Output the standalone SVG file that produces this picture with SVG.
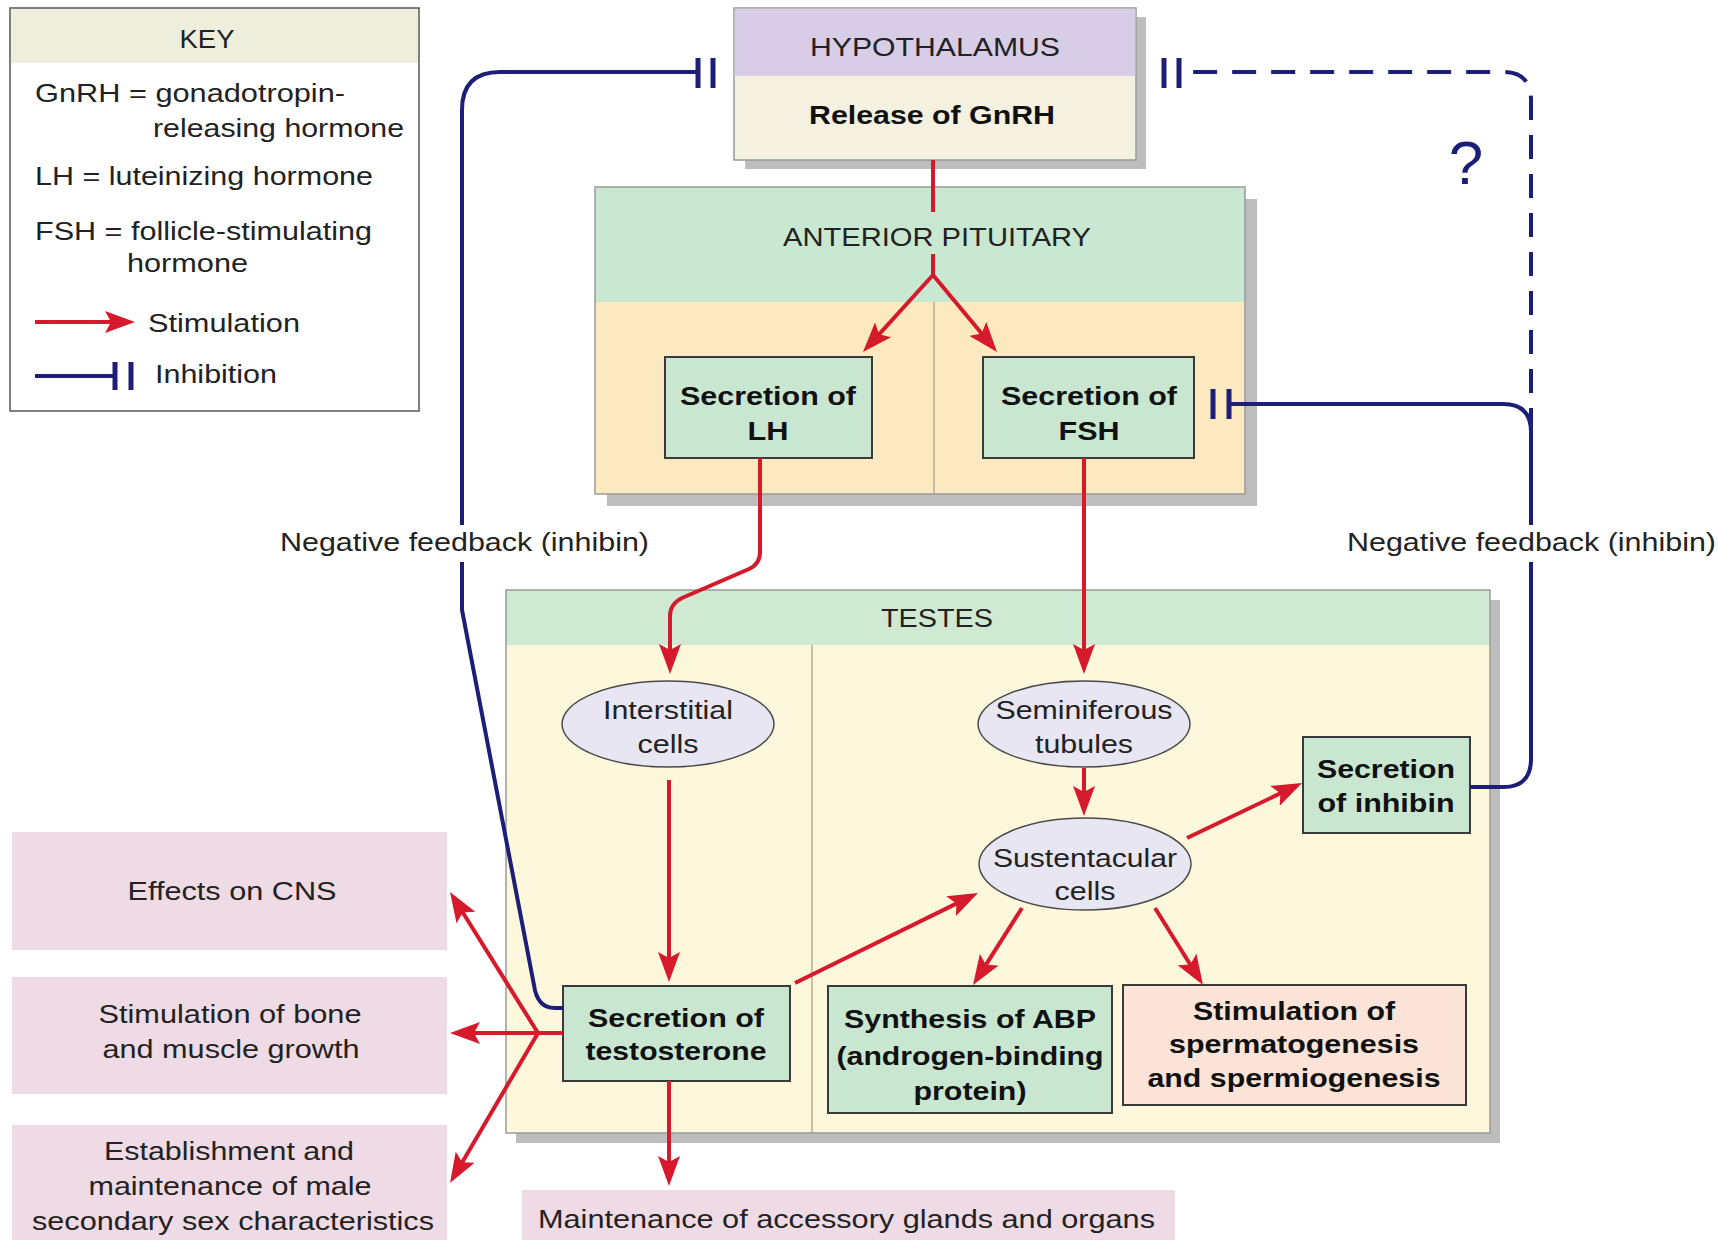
<svg xmlns="http://www.w3.org/2000/svg" width="1718" height="1240" viewBox="0 0 1718 1240">
<style>
.t{font-family:"Liberation Sans",Arial,Helvetica,sans-serif;font-size:26px;fill:#222}
.b{font-weight:bold;fill:#111}
.m{text-anchor:middle}
.red{stroke:#d7192c;stroke-width:4;fill:none}
.blue{stroke:#1c1f78;stroke-width:4;fill:none}
.bar{stroke:#1c1f78;stroke-width:5}
.box{stroke:#3a3a3a;stroke-width:2}
.green{fill:#c9e7d0}
.ell{fill:#e8e6f2;stroke:#4a4a4a;stroke-width:1.5}
.pink{fill:#efdbe5}
.shadow{fill:#bdbdbd}
.frame{fill:none;stroke:#9a9a9a;stroke-width:1.5}
</style>
<defs>
<marker id="arr" markerUnits="userSpaceOnUse" markerWidth="30" markerHeight="22" viewBox="0 0 30 22" refX="20" refY="11" orient="auto">
<path d="M0,0 L30,11 L0,22 L6,11 z" fill="#d7192c"/>
</marker>
</defs>
<rect width="1718" height="1240" fill="#ffffff"/>

<g id="key">
<rect x="10" y="8" width="409" height="403" fill="#ffffff" stroke="#555" stroke-width="1.5"/>
<rect x="11" y="9" width="407" height="54" fill="#eeeedd"/>
<text class="t m" x="207" y="48" textLength="55" lengthAdjust="spacingAndGlyphs">KEY</text>
<text class="t" x="35" y="102" textLength="310" lengthAdjust="spacingAndGlyphs">GnRH = gonadotropin-</text>
<text class="t" x="153" y="137" textLength="251" lengthAdjust="spacingAndGlyphs">releasing hormone</text>
<text class="t" x="35" y="185" textLength="338" lengthAdjust="spacingAndGlyphs">LH = luteinizing hormone</text>
<text class="t" x="35" y="240" textLength="337" lengthAdjust="spacingAndGlyphs">FSH = follicle-stimulating</text>
<text class="t" x="127" y="272" textLength="121" lengthAdjust="spacingAndGlyphs">hormone</text>
<text class="t" x="148" y="332" textLength="152" lengthAdjust="spacingAndGlyphs">Stimulation</text>
<text class="t" x="155" y="383" textLength="122" lengthAdjust="spacingAndGlyphs">Inhibition</text>
<line class="red" x1="35" y1="322" x2="125" y2="322" marker-end="url(#arr)"/>
<line class="blue" x1="35" y1="376" x2="115" y2="376"/>
<line class="bar" x1="115" y1="362" x2="115" y2="390"/>
<line class="bar" x1="131" y1="362" x2="131" y2="390"/>
</g>

<g id="hypothalamus">
<rect class="shadow" x="745" y="17" width="401" height="152"/>
<rect x="734" y="8" width="402" height="152" fill="#f4f1e0" stroke="#9a9a9a" stroke-width="1.5"/>
<rect x="734.75" y="8.75" width="400.5" height="67" fill="#d7cde6"/>
<text class="t m" x="935" y="56" textLength="250" lengthAdjust="spacingAndGlyphs">HYPOTHALAMUS</text>
<text class="t b m" x="932" y="124" textLength="246" lengthAdjust="spacingAndGlyphs">Release of GnRH</text>
</g>

<g id="anterior-pituitary">
<rect class="shadow" x="607" y="199" width="650" height="307"/>
<rect x="595" y="187" width="650" height="307" fill="#fce9c0"/>
<rect x="595" y="187" width="650" height="115" fill="#c9e8d2"/>
<line x1="934" y1="302" x2="934" y2="494" stroke="#b9ad92" stroke-width="1.5"/>
<rect class="frame" x="595" y="187" width="650" height="307"/>
<text class="t m" x="937" y="246" textLength="308" lengthAdjust="spacingAndGlyphs">ANTERIOR PITUITARY</text>
</g>

<g id="testes">
<rect class="shadow" x="516" y="600" width="984" height="543"/>
<rect x="506" y="590" width="984" height="543" fill="#fdf7dc"/>
<rect x="506" y="590" width="984" height="55" fill="#cfe9d2"/>
<line x1="812" y1="645" x2="812" y2="1133" stroke="#b9ad92" stroke-width="1.5"/>
<rect class="frame" x="506" y="590" width="984" height="543"/>
<text class="t m" x="937" y="627" textLength="112" lengthAdjust="spacingAndGlyphs">TESTES</text>
</g>

<g id="lh">
<rect class="box green" x="665" y="357" width="207" height="101"/>
<text class="t b m" x="768" y="405" textLength="176" lengthAdjust="spacingAndGlyphs">Secretion of</text>
<text class="t b m" x="768" y="440" textLength="41" lengthAdjust="spacingAndGlyphs">LH</text>
</g>

<g id="fsh">
<rect class="box green" x="983" y="357" width="211" height="101"/>
<text class="t b m" x="1089" y="405" textLength="176" lengthAdjust="spacingAndGlyphs">Secretion of</text>
<text class="t b m" x="1089" y="440" textLength="61" lengthAdjust="spacingAndGlyphs">FSH</text>
</g>

<g id="interstitial">
<ellipse class="ell" cx="668" cy="724" rx="106" ry="43"/>
<text class="t m" x="668" y="719" textLength="130" lengthAdjust="spacingAndGlyphs">Interstitial</text>
<text class="t m" x="668" y="753" textLength="61" lengthAdjust="spacingAndGlyphs">cells</text>
</g>

<g id="seminiferous">
<ellipse class="ell" cx="1084" cy="724" rx="106" ry="43"/>
<text class="t m" x="1084" y="719" textLength="177" lengthAdjust="spacingAndGlyphs">Seminiferous</text>
<text class="t m" x="1084" y="753" textLength="98" lengthAdjust="spacingAndGlyphs">tubules</text>
</g>

<g id="sustentacular">
<ellipse class="ell" cx="1085" cy="864" rx="106" ry="46"/>
<text class="t m" x="1085" y="867" textLength="184" lengthAdjust="spacingAndGlyphs">Sustentacular</text>
<text class="t m" x="1085" y="900" textLength="61" lengthAdjust="spacingAndGlyphs">cells</text>
</g>

<g id="inhibin">
<rect class="box green" x="1303" y="737" width="167" height="96"/>
<text class="t b m" x="1386" y="778" textLength="138" lengthAdjust="spacingAndGlyphs">Secretion</text>
<text class="t b m" x="1386" y="812" textLength="137" lengthAdjust="spacingAndGlyphs">of inhibin</text>
</g>

<g id="testosterone">
<rect class="box green" x="563" y="986" width="227" height="95"/>
<text class="t b m" x="676" y="1027" textLength="176" lengthAdjust="spacingAndGlyphs">Secretion of</text>
<text class="t b m" x="676" y="1060" textLength="181" lengthAdjust="spacingAndGlyphs">testosterone</text>
</g>

<g id="abp">
<rect class="box green" x="828" y="986" width="284" height="127"/>
<text class="t b m" x="970" y="1028" textLength="252" lengthAdjust="spacingAndGlyphs">Synthesis of ABP</text>
<text class="t b m" x="970" y="1065" textLength="267" lengthAdjust="spacingAndGlyphs">(androgen-binding</text>
<text class="t b m" x="970" y="1100" textLength="113" lengthAdjust="spacingAndGlyphs">protein)</text>
</g>

<g id="spermatogenesis">
<rect class="box" x="1123" y="985" width="343" height="120" fill="#fbe3d7"/>
<text class="t b m" x="1294" y="1020" textLength="202" lengthAdjust="spacingAndGlyphs">Stimulation of</text>
<text class="t b m" x="1294" y="1053" textLength="250" lengthAdjust="spacingAndGlyphs">spermatogenesis</text>
<text class="t b m" x="1294" y="1087" textLength="293" lengthAdjust="spacingAndGlyphs">and spermiogenesis</text>
</g>

<g id="cns">
<rect class="pink" x="12" y="832" width="435" height="118"/>
<text class="t m" x="232" y="900" textLength="209" lengthAdjust="spacingAndGlyphs">Effects on CNS</text>
</g>

<g id="bone-muscle">
<rect class="pink" x="12" y="977" width="435" height="117"/>
<text class="t m" x="230" y="1023" textLength="263" lengthAdjust="spacingAndGlyphs">Stimulation of bone</text>
<text class="t m" x="231" y="1058" textLength="257" lengthAdjust="spacingAndGlyphs">and muscle growth</text>
</g>

<g id="secondary-sex">
<rect class="pink" x="12" y="1125" width="435" height="120"/>
<text class="t m" x="229" y="1160" textLength="250" lengthAdjust="spacingAndGlyphs">Establishment and</text>
<text class="t m" x="230" y="1195" textLength="283" lengthAdjust="spacingAndGlyphs">maintenance of male</text>
<text class="t m" x="233" y="1230" textLength="402" lengthAdjust="spacingAndGlyphs">secondary sex characteristics</text>
</g>

<g id="accessory">
<rect class="pink" x="522" y="1190" width="653" height="60"/>
<text class="t" x="538" y="1228" textLength="617" lengthAdjust="spacingAndGlyphs">Maintenance of accessory glands and organs</text>
</g>

<g id="connectors">
<path class="red" d="M933,160 V212 M933,254 V275"/>
<line class="red" x1="933" y1="275" x2="869.7" y2="344.6" marker-end="url(#arr)"/>
<line class="red" x1="933" y1="275" x2="990.6" y2="344.3" marker-end="url(#arr)"/>
<path class="red" d="M760,458 V552 Q760,564 749,569 L682,598 Q670,604 670,616 V664" marker-end="url(#arr)"/>
<line class="red" x1="1084" y1="458" x2="1084" y2="664" marker-end="url(#arr)"/>
<line class="red" x1="669" y1="780" x2="669" y2="972" marker-end="url(#arr)"/>
<line class="red" x1="1084" y1="768" x2="1084" y2="806" marker-end="url(#arr)"/>
<line class="red" x1="1187" y1="838" x2="1293" y2="787.3" marker-end="url(#arr)"/>
<line class="red" x1="1022" y1="908" x2="978.4" y2="976.6" marker-end="url(#arr)"/>
<line class="red" x1="1155" y1="908" x2="1197.7" y2="976.5" marker-end="url(#arr)"/>
<line class="red" x1="795" y1="983" x2="969" y2="897.4" marker-end="url(#arr)"/>
<line class="red" x1="538" y1="1033" x2="455.3" y2="900.5" marker-end="url(#arr)"/>
<line class="red" x1="563" y1="1033" x2="460" y2="1033" marker-end="url(#arr)"/>
<line class="red" x1="538" y1="1033" x2="455.1" y2="1174.4" marker-end="url(#arr)"/>
<line class="red" x1="669" y1="1081" x2="669" y2="1176" marker-end="url(#arr)"/>

<path class="blue" d="M698,72 H500 Q462,72 462,110 V525 M462,562 V610 L534,985 Q537,1008 555,1008 H563"/>
<line class="bar" x1="698" y1="58" x2="698" y2="88"/>
<line class="bar" x1="713" y1="58" x2="713" y2="88"/>
<path class="blue" d="M1470,787 H1503 Q1531,787 1531,759 V562 M1531,525 V432 Q1531,404 1503,404 H1229"/>
<line class="bar" x1="1229" y1="389" x2="1229" y2="419"/>
<line class="bar" x1="1213" y1="389" x2="1213" y2="419"/>
<path class="blue" stroke-dasharray="24 15" d="M1531,432 V100 Q1531,72 1503,72 H1179"/>
<line class="bar" x1="1179" y1="58" x2="1179" y2="88"/>
<line class="bar" x1="1164" y1="58" x2="1164" y2="88"/>
</g>

<g id="labels">
<text class="t" x="280" y="551" textLength="369" lengthAdjust="spacingAndGlyphs">Negative feedback (inhibin)</text>
<text class="t" x="1347" y="551" textLength="369" lengthAdjust="spacingAndGlyphs">Negative feedback (inhibin)</text>
<text x="1466" y="184" text-anchor="middle" font-family="Liberation Sans, Arial, sans-serif" font-size="62" fill="#1c1f78">?</text>
</g>
</svg>
